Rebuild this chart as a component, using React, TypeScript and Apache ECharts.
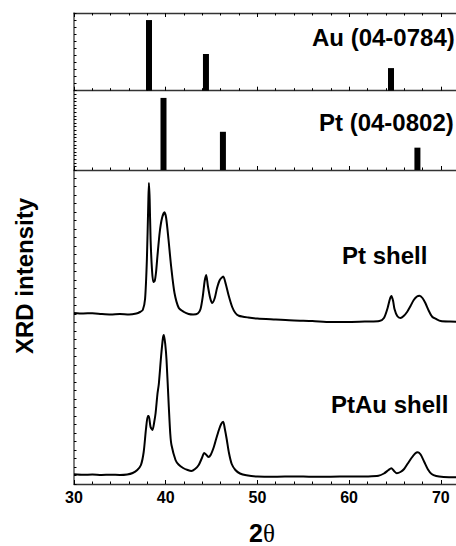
import React, { useEffect, useRef } from "react";
import * as echarts from "echarts";

// Reference patterns (2θ, relative intensity)
const auPos = [38.18, 44.39, 64.57];
const auInt = [100, 52, 32];
const ptPos = [39.76, 46.24, 67.45];
const ptInt = [100, 53, 31];

// Measured XRD curves (2θ, intensity, arbitrary units)
const ptShellX = [30, 31, 32, 33, 34, 35, 36, 36.8, 37.2, 37.5, 37.75, 37.95, 38.1, 38.17, 38.25, 38.35, 38.5, 38.65, 38.8, 38.95, 39.1, 39.35, 39.6, 39.87, 40.05, 40.3, 40.6, 40.96, 41.43, 42.0, 42.5, 43.0, 43.5, 43.8, 44.05, 44.25, 44.42, 44.6, 44.85, 45.07, 45.35, 45.6, 45.9, 46.27, 46.55, 46.85, 47.25, 47.6, 47.97, 49, 50, 52, 54, 56, 58, 60, 62, 63.3, 63.8, 64.2, 64.45, 64.62, 64.8, 64.95, 65.25, 65.6, 65.95, 66.34, 66.7, 67.05, 67.4, 67.68, 68.0, 68.33, 68.7, 69.06, 69.5, 70, 71, 72];
const ptShellY = [171, 170.5, 170.8, 170, 169.5, 170, 169.5, 170.5, 172, 174, 185, 225, 280, 301, 285, 245, 215, 202, 203, 212, 228, 252, 266, 271.7, 266, 245, 217, 191, 176, 172, 170, 169.5, 170.5, 175, 188, 203, 209, 198, 186, 181, 186, 196, 204, 207.5, 200, 189, 177, 171, 168.3, 166.5, 165.5, 164.5, 163.5, 163, 162, 162, 162.5, 163, 166, 176, 185, 188, 183, 175, 168, 166, 168, 172.3, 178, 184, 187.5, 188.3, 186, 180.7, 173, 167.3, 165, 163, 162.5, 162.3];

const ptAuShellX = [30, 31, 32, 33, 34, 35, 35.8, 36.4, 36.9, 37.3, 37.6, 37.85, 38.05, 38.15, 38.35, 38.56, 38.75, 38.9, 39.1, 39.25, 39.5, 39.7, 39.8, 39.95, 40.09, 40.34, 40.5, 40.63, 41.07, 41.4, 41.9, 42.4, 42.8, 43.2, 43.6, 43.95, 44.2, 44.4, 44.65, 44.9, 45.25, 45.5, 45.8, 46.05, 46.27, 46.45, 46.65, 46.9, 47.2, 47.6, 48.1, 48.8, 50, 52, 54, 56, 58, 60, 62, 63.2, 63.8, 64.3, 64.6, 64.9, 65.2, 65.6, 66.0, 66.4, 66.8, 67.2, 67.5, 67.8, 68.2, 68.6, 69.0, 69.5, 70.3, 71, 72];
const ptAuShellY = [9.7, 9.2, 9.5, 9, 9.3, 9, 9.5, 11, 14, 19, 32, 55, 68, 68, 57, 54, 62, 71, 90, 100, 128, 146, 149, 140, 124, 77, 50, 39, 24, 19.5, 16, 14, 13, 15, 19, 26, 31, 29.5, 27, 29, 37, 45, 54, 60, 62.3, 55, 45, 31, 20, 14, 10.5, 8.7, 7.5, 7.3, 7.6, 7.2, 7.3, 7.5, 7.6, 8.2, 10.5, 14, 15.7, 13, 10.8, 12, 15, 20.5, 26, 30.5, 31.7, 29.5, 22, 14.5, 10, 8, 7, 6.8, 6.7];

const xTickLabels = ["30", "40", "50", "60", "70"];

const FONT = "Liberation Sans, Arial, Helvetica, sans-serif";

export default function App() {
  const ref = useRef<HTMLDivElement>(null);
  useEffect(() => {
    if (!ref.current) return;
    const chart = echarts.init(ref.current, null, { renderer: "svg" });
    const left = 74;
    const width = 458.5;
    const grids = [
      { left, width, top: 13, height: 77.7 },
      { left, width, top: 90.7, height: 79.3 },
      { left, width, top: 170, height: 314 },
    ];
    const lineCol = "#333";
    const mkX = (i: number, position: string, labels: boolean) => ({
      type: "value",
      gridIndex: i,
      position,
      min: 30,
      max: 80,
      interval: 10,
      axisLine: { show: true, onZero: false, lineStyle: { color: lineCol, width: 1.3 } },
      axisTick: { show: true, inside: true, length: 4, lineStyle: { color: "#000" } },
      minorTick: { show: true, splitNumber: 5, length: 2.5, lineStyle: { color: "#000" } },
      splitLine: { show: false },
      axisLabel: {
        show: labels,
        margin: 5,
        fontSize: 16,
        fontWeight: "bold",
        fontFamily: FONT,
        color: "#000",
        formatter: (v: number) => (xTickLabels.includes(String(v)) ? `{t|${v}}` : ""),
        rich: {
          t: { fontSize: 16, fontWeight: "bold", fontFamily: FONT, color: "#000" },
        },
      },
    });
    const mkY = (i: number, max: number, interval: number) => ({
      type: "value",
      gridIndex: i,
      min: 0,
      max,
      interval,
      axisLine: { show: true, lineStyle: { color: "#555", width: 1.5 } },
      axisTick: { show: true, inside: true, length: 2.5, lineStyle: { color: "#000" } },
      axisLabel: { show: false },
      splitLine: { show: false },
    });
    chart.setOption({
      animation: false,
      backgroundColor: "#fff",
      grid: grids,
      xAxis: [mkX(0, "bottom", false), mkX(0, "top", false), mkX(1, "bottom", false), mkX(2, "bottom", true)],
      yAxis: [mkY(0, 110, 10), mkY(1, 110, 5), mkY(2, 314, 8.5)],
      series: [
        {
          type: "bar",
          xAxisIndex: 0,
          yAxisIndex: 0,
          barWidth: 6,
          itemStyle: { color: "#000" },
          data: auPos.map((x, k) => [x, auInt[k]]),
        },
        {
          type: "bar",
          xAxisIndex: 2,
          yAxisIndex: 1,
          barWidth: 6,
          itemStyle: { color: "#000" },
          data: ptPos.map((x, k) => [x, ptInt[k]]),
        },
        {
          type: "line",
          xAxisIndex: 3,
          yAxisIndex: 2,
          showSymbol: false,
          smooth: 0.25,
          lineStyle: { color: "#000", width: 2 },
          data: ptShellX.map((x, k) => [x, ptShellY[k]]),
        },
        {
          type: "line",
          xAxisIndex: 3,
          yAxisIndex: 2,
          showSymbol: false,
          smooth: 0.25,
          lineStyle: { color: "#000", width: 2 },
          data: ptAuShellX.map((x, k) => [x, ptAuShellY[k]]),
        },
      ],
      graphic: [
        {
          type: "text",
          x: 312,
          y: 37,
          style: { text: "Au (04-0784)", font: `bold 24px ${FONT}`, fill: "#000", verticalAlign: "middle" },
        },
        {
          type: "text",
          x: 319,
          y: 122,
          style: { text: "Pt (04-0802)", font: `bold 24px ${FONT}`, fill: "#000", verticalAlign: "middle" },
        },
        {
          type: "text",
          x: 342,
          y: 255,
          style: { text: "Pt shell", font: `bold 24px ${FONT}`, fill: "#000", verticalAlign: "middle" },
        },
        {
          type: "text",
          x: 331,
          y: 404,
          style: { text: "PtAu shell", font: `bold 24px ${FONT}`, fill: "#000", verticalAlign: "middle" },
        },
        {
          type: "text",
          x: 24,
          y: 276,
          rotation: Math.PI / 2,
          style: {
            text: "XRD intensity",
            font: `bold 24px ${FONT}`,
            fill: "#000",
            align: "center",
            verticalAlign: "middle",
          },
        },
        {
          type: "text",
          x: 262,
          y: 533,
          style: {
            text: "{a|2}{b|θ}",
            align: "center",
            verticalAlign: "middle",
            rich: {
              a: { fontSize: 25, fontWeight: "bold", fontFamily: FONT, fill: "#000" },
              b: { fontSize: 25, fontFamily: "Liberation Serif, DejaVu Serif, serif", fill: "#000" },
            },
          },
        },
      ],
    });
    return () => chart.dispose();
  }, []);
  return (
    <div style={{ position: "absolute", left: 0, top: 0, width: 456, height: 546, overflow: "hidden", background: "#fff" }}>
      <div ref={ref} style={{ width: 560, height: 546 }} />
    </div>
  );
}
